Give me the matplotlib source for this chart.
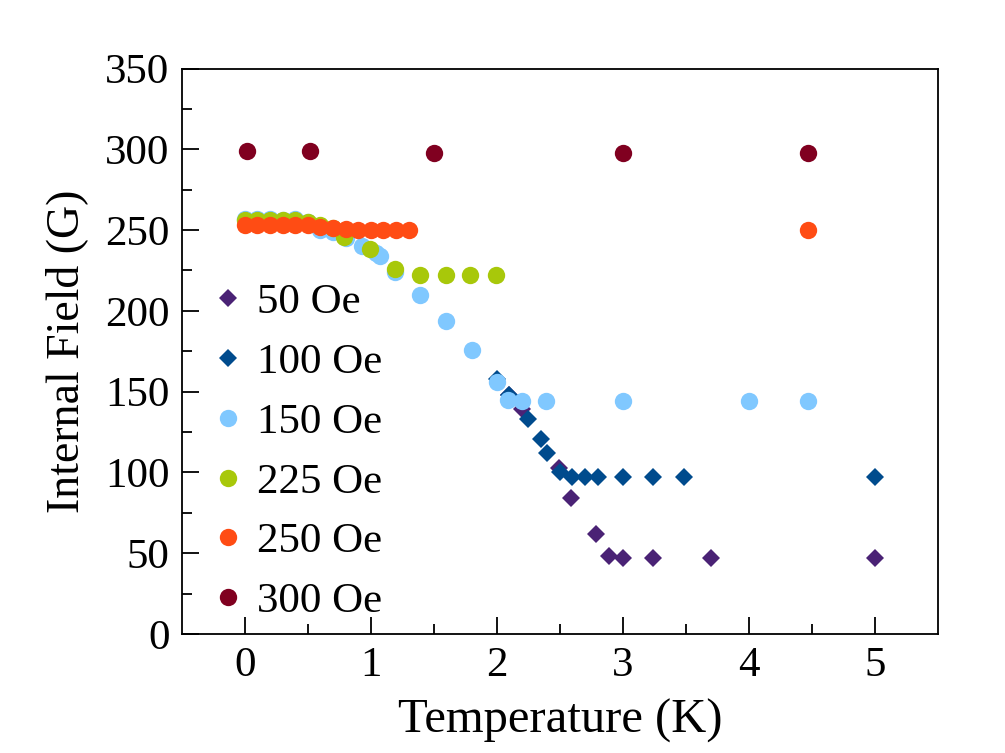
import matplotlib
matplotlib.use("Agg")
import matplotlib.pyplot as plt

plt.rcParams['font.family'] = ['Liberation Serif', 'DejaVu Serif']

# 50 Oe
t50 = [2.1, 2.2, 2.49, 2.59, 2.79, 2.89, 3.0, 3.24, 3.7, 5.0]
b50 = [148, 139, 103, 84, 62, 48, 47, 47, 47, 47]
# 100 Oe
t100 = [2.0, 2.1, 2.25, 2.35, 2.4, 2.5, 2.6, 2.7, 2.8, 3.0, 3.24, 3.49, 5.0]
b100 = [158, 148, 133, 121, 112, 100, 97, 97, 97, 97, 97, 97, 97]
# 150 Oe
t150 = [0.0, 0.1, 0.2, 0.3, 0.4, 0.5, 0.6, 0.7, 0.8, 0.93, 1.04, 1.07, 1.19,
        1.39, 1.6, 1.8, 2.0, 2.09, 2.2, 2.39, 3.0, 4.0, 4.47]
b150 = [257, 257, 257, 256, 257, 255, 250, 249, 245, 240, 236, 234, 224,
        210, 194, 176, 156, 145, 144, 144, 144, 144, 144]
# 225 Oe
t225 = [0.0, 0.1, 0.2, 0.3, 0.4, 0.5, 0.6, 0.7, 0.79, 0.99, 1.19, 1.39, 1.6, 1.79, 1.99]
b225 = [256, 256, 256, 256, 256, 255, 253, 251, 246, 238, 226, 222, 222, 222, 222]
# 250 Oe
t250 = [0.0, 0.1, 0.2, 0.3, 0.4, 0.5, 0.6, 0.7, 0.8, 0.9, 1.0, 1.1, 1.2, 1.3, 4.47]
b250 = [253, 253, 253, 253, 253, 253, 252, 251, 250.5, 250, 250, 250, 250, 250, 250]
# 300 Oe
t300 = [0.02, 0.52, 1.5, 3.0, 4.47]
b300 = [299, 299, 298, 298, 298]

series = [
    (t50, b50, 'D', '#4a2275', '50 Oe', 9.5),
    (t100, b100, 'D', '#004b8d', '100 Oe', 9.5),
    (t150, b150, 'o', '#80c8ff', '150 Oe', 12.5),
    (t225, b225, 'o', '#a8c80a', '225 Oe', 12.5),
    (t250, b250, 'o', '#ff4c14', '250 Oe', 12.5),
    (t300, b300, 'o', '#800020', '300 Oe', 12.5),
]

fig = plt.figure(figsize=(10.05, 7.53), dpi=100)
ax = fig.add_axes([0.181, 0.158, 0.752, 0.751])

for t, b, m, c, lab, ms in series:
    ax.plot(t, b, linestyle='none', marker=m, color=c, markersize=ms,
            markeredgewidth=0, label=lab)

ax.set_xlim(-0.5, 5.5)
ax.set_ylim(0, 350)
ax.set_xticks([0, 1, 2, 3, 4, 5])
ax.set_xticks([0.5, 1.5, 2.5, 3.5, 4.5], minor=True)
ax.set_yticks(range(0, 351, 50))
ax.set_yticks(range(25, 350, 50), minor=True)
ax.tick_params(direction='in', which='major', length=12, width=1.3, labelsize=31,
               top=False, right=False, pad=9)
ax.tick_params(direction='in', which='minor', length=7, width=1.3,
               top=False, right=False)
for s in ax.spines.values():
    s.set_linewidth(1.3)

ax.set_xlabel('Temperature (K)', fontsize=35, labelpad=10)
ax.set_ylabel('Internal Field (G)', fontsize=33, labelpad=12)

ax.legend(loc='lower left', bbox_to_anchor=(-0.002, -0.023), frameon=False, fontsize=31,
          handletextpad=0.18, labelspacing=0.48, borderaxespad=0.2,
          handlelength=1.0)

fig.savefig('out.png', dpi=100)
